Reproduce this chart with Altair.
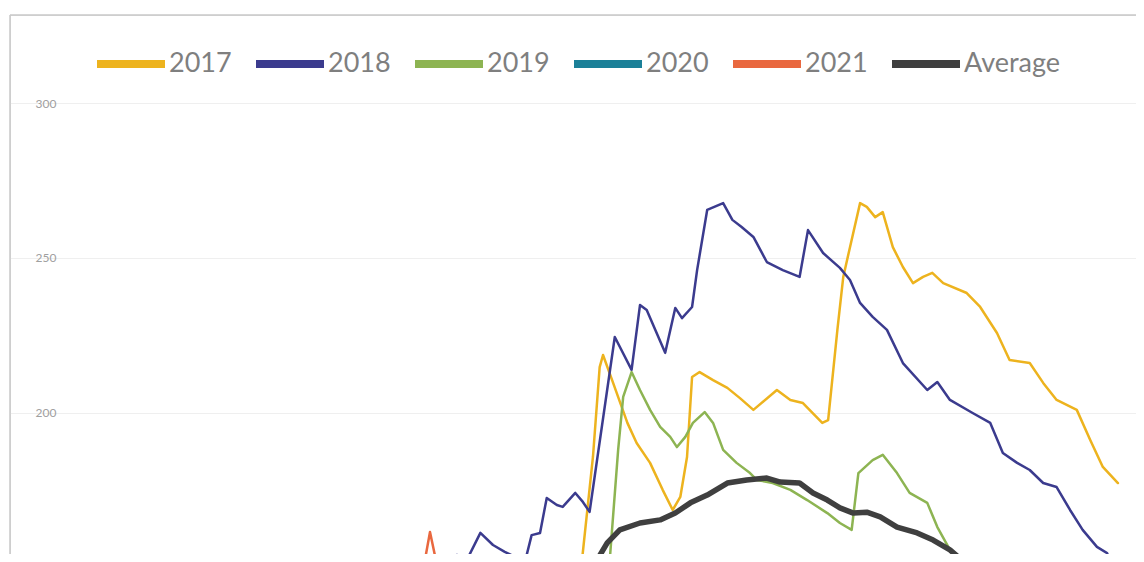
import altair as alt
import pandas as pd

series_order = ["2017", "2018", "2019", "2020", "2021", "Average"]
series_colors = ["#EDB31E", "#3B3B8E", "#8DB452", "#1B8098", "#E9683F", "#3F3F3F"]
y_ticks = [200, 250, 300]

day_2017 = [67.6, 68.1, 69.4, 70.2, 70.6, 71.8, 73.5, 74.6, 76.2, 77.7, 78.9, 79.8, 80.6, 81.2,
            82.1, 83.7, 85.4, 86.9, 88.5, 91.3, 92.9, 94.4, 96.7, 97.4, 98.5, 99.2, 100.0, 101.2,
            102.0, 103.0, 103.9, 105.1, 106.3, 107.5, 108.7, 109.8, 111.1, 113.9, 115.5, 117.5,
            119.0, 121.4, 123.0, 124.6, 127.0, 128.6, 130.1, 131.9]
val_2017 = [146.1, 152.6, 185.8, 214.8, 218.7, 209.7, 196.8, 190.3, 183.9, 175.2, 168.7, 172.9,
            185.8, 211.6, 213.2, 210.6, 208.1, 204.8, 201.0, 207.4, 204.2, 203.2, 196.8, 197.7,
            226.8, 243.9, 253.5, 267.7, 266.5, 263.2, 264.8, 253.5, 247.1, 241.9, 243.9, 245.2,
            241.9, 238.7, 234.2, 225.8, 217.1, 216.1, 209.7, 204.2, 201.0, 191.3, 182.6, 177.4]

day_2018 = [51.2, 52.0, 53.2, 54.5, 56.0, 57.5, 58.9, 60.4, 61.3, 62.1, 63.1, 63.9, 65.1, 65.8,
            67.3, 68.2, 69.0, 72.0, 74.0, 75.0, 75.8, 78.0, 79.2, 80.0, 81.2, 81.8, 83.0, 84.9,
            86.0, 87.1, 88.5, 90.1, 92.0, 94.0, 95.0, 96.8, 98.8, 100.0, 101.2, 102.7, 104.4,
            106.3, 109.2, 110.4, 111.9, 114.6, 116.7, 118.2, 119.9, 121.4, 123.0, 124.6, 126.2,
            127.7, 129.4, 130.6, 131.5]
val_2018 = [147.7, 153.2, 154.2, 153.2, 161.3, 157.4, 155.2, 153.2, 151.9, 160.6, 161.3, 172.6,
            170.3, 169.7, 174.2, 171.3, 168.1, 224.5, 213.9, 234.8, 233.2, 219.4, 233.9, 230.6,
            234.2, 246.1, 265.5, 267.7, 262.3, 260.0, 256.8, 248.7, 246.1, 243.9, 259.0, 251.6,
            246.8, 242.9, 235.5, 231.0, 226.8, 216.1, 207.4, 210.0, 204.2, 200.0, 196.8, 187.1,
            183.9, 181.6, 177.4, 176.1, 168.7, 162.3, 156.8, 154.8, 149.4]

day_2019 = [71.1, 71.4, 72.4, 73.0, 74.0, 75.0, 76.2, 77.4, 78.6, 79.4, 80.4, 81.3, 82.7, 83.7,
            84.9, 86.5, 88.1, 88.9, 90.8, 92.9, 94.9, 97.3, 98.8, 100.2, 101.0, 102.7, 103.9,
            105.6, 107.1, 109.2, 110.4, 111.9, 113.7]
val_2019 = [144.5, 152.6, 188.1, 205.2, 213.2, 207.4, 201.0, 195.5, 192.3, 189.0, 192.3, 196.8,
            200.3, 196.8, 188.1, 183.9, 180.6, 178.4, 177.4, 175.2, 171.9, 167.7, 164.5, 162.3,
            180.6, 184.8, 186.5, 180.6, 174.2, 171.0, 163.2, 155.8, 150.0]

day_2021 = [48.2, 49.4, 50.0, 50.7, 51.4]
val_2021 = [144.5, 152.6, 161.6, 152.6, 144.5]

day_avg = [69.0, 69.9, 71.1, 72.6, 75.0, 77.4, 79.2, 81.0, 83.0, 85.4, 87.7, 90.1, 91.7, 94.0,
           95.6, 97.3, 98.8, 100.4, 102.0, 103.6, 105.6, 108.0, 109.9, 111.9, 114.0, 115.5]
val_avg = [147.7, 152.6, 158.1, 162.3, 164.5, 165.5, 167.7, 171.0, 173.5, 177.4, 178.4, 179.0,
           177.7, 177.4, 174.2, 171.9, 169.4, 167.7, 168.0, 166.5, 163.2, 161.3, 159.0, 155.8,
           151.0, 147.7]

rows = []
for name, days, vals in [("2017", day_2017, val_2017), ("2018", day_2018, val_2018),
                         ("2019", day_2019, val_2019), ("2021", day_2021, val_2021),
                         ("Average", day_avg, val_avg)]:
    for d, v in zip(days, vals):
        rows.append({"series": name, "day": d, "value": v})
df = pd.DataFrame(rows)

W, H = 1126, 539

lines = alt.Chart(df).mark_line(clip=True, strokeJoin="round", strokeCap="round").encode(
    x=alt.X("day:Q", scale=alt.Scale(domain=[0, 134.05], nice=False, zero=False), axis=None),
    y=alt.Y("value:Q", scale=alt.Scale(domain=[154.5, 328.4], nice=False, zero=False),
            axis=alt.Axis(values=y_ticks, orient="left", offset=-50, title=None, ticks=False,
                          domain=False, grid=True, gridColor="#efefef", gridWidth=1,
                          labelFont="Lato", labelFontSize=12, labelColor="#a0a0a0",
                          labelPadding=4)),
    color=alt.Color("series:N", scale=alt.Scale(domain=series_order, range=series_colors),
                    legend=alt.Legend(orient="none", legendX=83, legendY=11,
                                      direction="horizontal", title=None, symbolType="stroke",
                                      symbolSize=4624, symbolStrokeWidth=8, labelFontSize=27,
                                      labelFont="Lato", labelColor="#7f7f7f", columnPadding=8,
                                      labelOffset=0, labelLimit=300)),
    strokeWidth=alt.condition(alt.datum.series == "Average", alt.value(5.5), alt.value(2.5)),
    order=alt.Order("day:Q"),
)

frame_df = pd.DataFrame({"a": [0]})
frame_top = alt.Chart(frame_df).mark_rule(color="#c8c8c8", strokeWidth=1.5).encode(
    x=alt.value(0), x2=alt.value(W), y=alt.value(0))
frame_left = alt.Chart(frame_df).mark_rule(color="#c8c8c8", strokeWidth=1.5).encode(
    x=alt.value(0), y=alt.value(0), y2=alt.value(H))

chart = alt.layer(lines, frame_top, frame_left).properties(
    width=W, height=H,
    autosize=alt.AutoSizeParams(type="none"),
    padding={"left": 2, "top": 7, "right": 0, "bottom": 0},
).configure_view(stroke=None).configure(background="white")

chart.save("out.html", embed_options={"renderer": "svg", "actions": False})
